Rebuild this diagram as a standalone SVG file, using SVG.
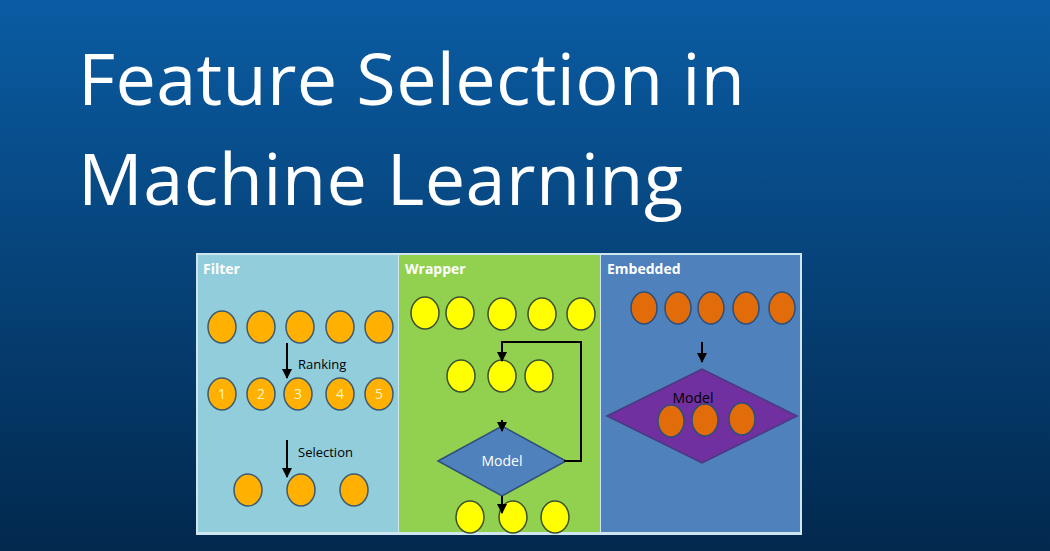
<svg xmlns="http://www.w3.org/2000/svg" width="1050" height="551" viewBox="0 0 1050 551">
<defs>
<linearGradient id="bg" x1="0" y1="0" x2="0" y2="1"><stop offset="0" stop-color="#0a5ca3"/><stop offset="1" stop-color="#02284d"/></linearGradient>
<marker id="ah" viewBox="0 0 10 10" refX="9" refY="5" markerWidth="5" markerHeight="5" orient="auto"><path d="M0,0 L10,5 L0,10 z" fill="#000"/></marker>
<style>
.t{font-family:"Open Sans","Liberation Sans",sans-serif;fill:#fff}
.h{font-family:"Open Sans","Liberation Sans",sans-serif;font-weight:bold;font-size:14px;fill:#fff}
.l{font-family:"Open Sans","Liberation Sans",sans-serif;font-size:13px;fill:#000}
.o{fill:#ffb000;stroke:#3a5a70;stroke-width:1.5}
.y{fill:#ffff00;stroke:#3a5030;stroke-width:1.5}
.r{fill:#e36c0a;stroke:#2d4f7a;stroke-width:1.5}
.n{font-family:"Open Sans","Liberation Sans",sans-serif;font-size:14px;fill:#fff8c0;text-anchor:middle}
.c path,.c line,.c polyline{stroke:#000;stroke-width:2;fill:none}
</style>
</defs>
<rect width="1050" height="551" fill="url(#bg)"/>
<text class="t" x="78" y="105" font-size="72" textLength="667">Feature Selection in</text>
<text class="t" x="78" y="205" font-size="72" textLength="605">Machine Learning</text>
<rect x="196" y="253" width="606" height="282" fill="#cfe6f0"/>
<g id="filter">
<rect x="198" y="255" width="200" height="277" fill="#92cddc"/>
<text class="h" x="203" y="274">Filter</text>
<g class="o"><ellipse cx="222" cy="327" rx="14" ry="16"/><ellipse cx="261" cy="327" rx="14" ry="16"/><ellipse cx="300" cy="327" rx="14" ry="16"/><ellipse cx="340" cy="327" rx="14" ry="16"/><ellipse cx="379" cy="327" rx="14" ry="16"/>
<ellipse cx="222" cy="394" rx="14" ry="16"/><ellipse cx="261" cy="394" rx="14" ry="16"/><ellipse cx="298" cy="394" rx="14" ry="16"/><ellipse cx="340" cy="394" rx="14" ry="16"/><ellipse cx="379" cy="394" rx="14" ry="16"/>
<ellipse cx="248" cy="490" rx="14" ry="16"/><ellipse cx="301" cy="490" rx="14" ry="16"/><ellipse cx="354" cy="490" rx="14" ry="16"/></g>
<text class="n" x="222" y="399">1</text><text class="n" x="261" y="399">2</text><text class="n" x="298" y="399">3</text><text class="n" x="340" y="399">4</text><text class="n" x="379" y="399">5</text>
<text class="l" x="298" y="369">Ranking</text>
<text class="l" x="298" y="457">Selection</text>
</g>
<g id="wrapper">
<rect x="399" y="255" width="201" height="277" fill="#92d050"/>
<text class="h" x="405" y="274">Wrapper</text>
<g class="y"><ellipse cx="425" cy="313" rx="14" ry="16"/><ellipse cx="460" cy="313" rx="14" ry="16"/><ellipse cx="502" cy="314" rx="14" ry="16"/><ellipse cx="542" cy="314" rx="14" ry="16"/><ellipse cx="581" cy="314" rx="14" ry="16"/>
<ellipse cx="461" cy="376" rx="14" ry="16"/><ellipse cx="502" cy="376" rx="14" ry="16"/><ellipse cx="539" cy="376" rx="14" ry="16"/>
<ellipse cx="470" cy="517" rx="14" ry="16"/><ellipse cx="513" cy="517" rx="14" ry="16"/><ellipse cx="555" cy="517" rx="14" ry="16"/></g>
<polygon points="438,461 502,426 566,461 502,496" fill="#4f81bd" stroke="#2d4f7a" stroke-width="1.5"/>
<text x="502" y="466" text-anchor="middle" style="font-family:'Open Sans','Liberation Sans',sans-serif;font-size:14px;fill:#fff">Model</text>
</g>
<g id="embedded">
<rect x="601" y="255" width="199" height="277" fill="#4f81bd"/>
<text class="h" x="607" y="274">Embedded</text>
<g class="r"><ellipse cx="644" cy="308" rx="13" ry="16"/><ellipse cx="678" cy="308" rx="13" ry="16"/><ellipse cx="711" cy="308" rx="13" ry="16"/><ellipse cx="746" cy="308" rx="13" ry="16"/><ellipse cx="782" cy="308" rx="13" ry="16"/></g>
<polygon points="607,416 702,369 797,416 702,463" fill="#7030a0" stroke="#4a3a80" stroke-width="1.5"/>
<text class="l" x="693" y="403" text-anchor="middle" style="font-size:14px">Model</text>
<g class="r"><ellipse cx="671" cy="421" rx="13" ry="16"/><ellipse cx="705" cy="420" rx="13" ry="16"/><ellipse cx="742" cy="419" rx="13" ry="16"/></g>
</g>
<g id="connectors" class="c">
<line x1="287" y1="343" x2="287" y2="378" marker-end="url(#ah)"/>
<line x1="287" y1="440" x2="287" y2="477" marker-end="url(#ah)"/>
<polyline points="564,461 581,461 581,342 502,342 502,361" marker-end="url(#ah)"/>
<line x1="502" y1="420" x2="502" y2="431" marker-end="url(#ah)"/>
<line x1="502" y1="496" x2="502" y2="513" marker-end="url(#ah)"/>
<line x1="702" y1="342" x2="702" y2="362" marker-end="url(#ah)"/>
</g>
</svg>
